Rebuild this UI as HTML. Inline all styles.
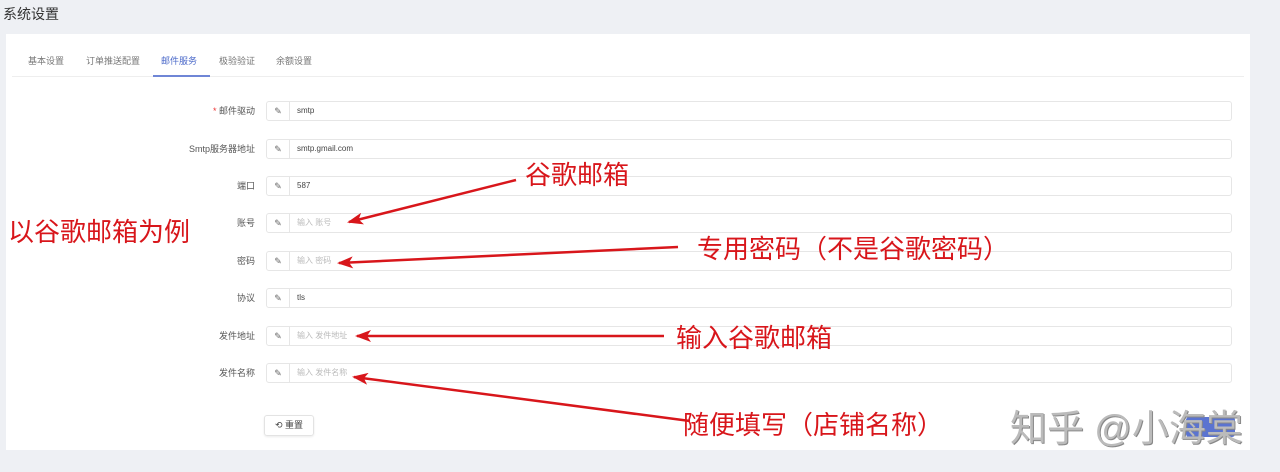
<!DOCTYPE html>
<html><head><meta charset="utf-8"><style>
body{margin:0;width:1280px;height:472px;background:#eef0f4;position:relative;overflow:hidden;font-family:"Liberation Sans","Noto Sans CJK SC",sans-serif;}
.abs{position:absolute}
.card{left:6px;top:34px;width:1244px;height:416px;background:#fff}
.tab{top:54px;font-size:9px;color:#777}
.lbl{font-size:9px;color:#555;text-align:right;width:120px;left:135px}
.inp{left:266px;width:966px;height:20px;border:1px solid #e6e6e6;border-radius:3px;box-sizing:border-box;background:#fff}
.inp .ic{position:absolute;left:0;top:0;width:22px;height:18px;border-right:1px solid #e6e6e6;font-size:9px;color:#666;text-align:center;line-height:18px}
.inp .t{position:absolute;left:30px;top:0;line-height:18px;font-size:8px;color:#444}
.inp .p{color:#bbb}
.red{color:#d8161b;font-size:26px;line-height:30px;font-family:"Liberation Sans","Noto Sans CJK SC",sans-serif}
</style></head><body>
<div class="abs" style="left:3px;top:4px;font-size:14px;color:#333">系统设置</div>
<div class="abs card"></div>
<div class="abs tab" style="left:28px">基本设置</div>
<div class="abs tab" style="left:86px">订单推送配置</div>
<div class="abs tab" style="left:161px;color:#4a68c9">邮件服务</div>
<div class="abs tab" style="left:219px">极验验证</div>
<div class="abs tab" style="left:276px">余额设置</div>
<div class="abs" style="left:12px;top:76px;width:1232px;height:1px;background:#eee"></div>
<div class="abs" style="left:153px;top:75px;width:57px;height:2px;background:#6f86d6"></div>

<div class="abs lbl" style="top:104px"><span style="color:#e33">*</span> 邮件驱动</div>
<div class="abs inp" style="top:101px"><span class="ic">✎</span><span class="t">smtp</span></div>
<div class="abs lbl" style="top:142px">Smtp服务器地址</div>
<div class="abs inp" style="top:139px"><span class="ic">✎</span><span class="t">smtp.gmail.com</span></div>
<div class="abs lbl" style="top:179px">端口</div>
<div class="abs inp" style="top:176px"><span class="ic">✎</span><span class="t">587</span></div>
<div class="abs lbl" style="top:216px">账号</div>
<div class="abs inp" style="top:213px"><span class="ic">✎</span><span class="t p">输入 账号</span></div>
<div class="abs lbl" style="top:254px">密码</div>
<div class="abs inp" style="top:251px"><span class="ic">✎</span><span class="t p">输入 密码</span></div>
<div class="abs lbl" style="top:291px">协议</div>
<div class="abs inp" style="top:288px"><span class="ic">✎</span><span class="t">tls</span></div>
<div class="abs lbl" style="top:329px">发件地址</div>
<div class="abs inp" style="top:326px"><span class="ic">✎</span><span class="t p">输入 发件地址</span></div>
<div class="abs lbl" style="top:366px">发件名称</div>
<div class="abs inp" style="top:363px"><span class="ic">✎</span><span class="t p">输入 发件名称</span></div>

<div class="abs" style="left:264px;top:415px;width:50px;height:21px;border:1px solid #e3e3e3;border-radius:3px;box-sizing:border-box;font-size:9px;color:#444;text-align:center;line-height:19px;box-shadow:0 1px 2px rgba(0,0,0,.08)">⟲ 重置</div>
<div class="abs" style="left:1186px;top:417px;width:49px;height:20px;background:#5b74d0;border-radius:3px"></div>

<div class="abs red" style="left:525px;top:160px">谷歌邮箱</div>
<div class="abs red" style="left:8px;top:217px">以谷歌邮箱为例</div>
<div class="abs red" style="left:697px;top:234px">专用密码（不是谷歌密码）</div>
<div class="abs red" style="left:676px;top:323px">输入谷歌邮箱</div>
<div class="abs red" style="left:683px;top:410px">随便填写（店铺名称）</div>

<svg class="abs" style="left:0;top:0" width="1280" height="472">
<defs><marker id="a" markerWidth="16" markerHeight="12" refX="14" refY="6" orient="auto" markerUnits="userSpaceOnUse"><path d="M0,0 L16,6 L0,12 L4,6 Z" fill="#d8161b"/></marker></defs>
<g stroke="#d8161b" stroke-width="2.5" fill="none">
<line x1="516" y1="180" x2="349" y2="222" marker-end="url(#a)"/>
<line x1="678" y1="247" x2="339" y2="263" marker-end="url(#a)"/>
<line x1="664" y1="336" x2="357" y2="336" marker-end="url(#a)"/>
<line x1="690" y1="421" x2="354" y2="377" marker-end="url(#a)"/>
</g></svg>
<div class="abs" style="left:1010px;top:398px;font-size:37px;color:#bbb;text-shadow:1px 1px 0 #888;white-space:nowrap">知乎 @小海棠</div>
</body></html>
